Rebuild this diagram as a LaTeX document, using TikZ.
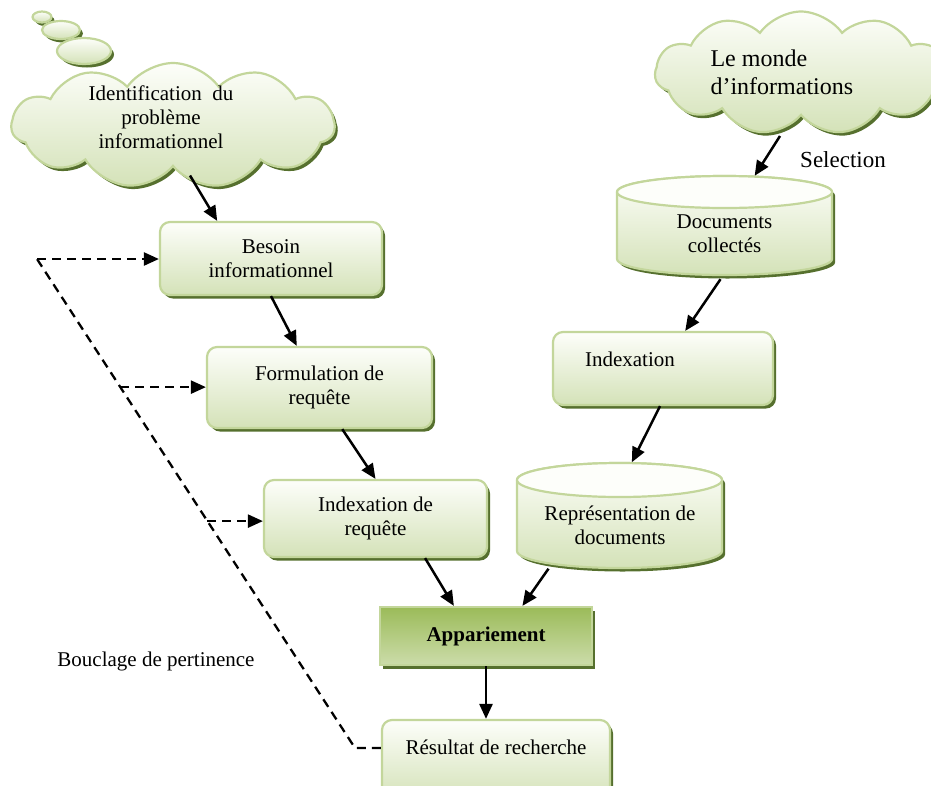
\documentclass[tikz,border=0pt]{standalone}
\usepackage{fontspec}
\setmainfont{Liberation Serif}
\usetikzlibrary{shapes.symbols,shadows,calc,arrows.meta}

\definecolor{edge}{HTML}{C3D69B}
\definecolor{paleg}{HTML}{D4E2B8}
\definecolor{topw}{HTML}{FDFEFA}
\definecolor{olive}{HTML}{56702E}
\definecolor{midg}{HTML}{9BBB59}
\definecolor{liteg}{HTML}{C3D69B}

\begin{document}
\begin{tikzpicture}[x=1pt,y=-1pt,
  every node/.style={font=\fontsize{21}{24}\selectfont},
  shad/.style={drop shadow={shadow xshift=3pt,shadow yshift=-3.5pt,fill=olive,opacity=1}},
  stepbox/.style={rectangle,rounded corners=10pt,draw=edge,line width=2.2pt,
    top color=topw,bottom color=paleg,shad,align=center,inner sep=0pt},
  matchbox/.style={rectangle,draw=liteg,line width=2.2pt,
    top color=midg,bottom color=liteg!85!white,shad,inner sep=0pt,
    font=\fontsize{21}{24}\selectfont\bfseries},
  cloudbox/.style={cloud,cloud puffs=11,cloud puff arc=110,draw=edge,line width=2.2pt,
    top color=topw,bottom color=paleg,shad,inner sep=0pt},
  bubble/.style={draw=edge,line width=2.2pt,top color=topw,bottom color=paleg,shad},
  cylbody/.style={draw=edge,line width=2.2pt,top color=topw,bottom color=paleg,shad},
  cyltop/.style={draw=edge,line width=2.2pt,fill=topw},
  bound/.style={rectangle,draw=none,inner sep=0pt},
  flow/.style={-{Triangle[length=15pt,width=13pt]},line width=2.5pt},
  loopline/.style={dash pattern=on 9pt off 6pt,line width=2.3pt},
  looptip/.style={-{Triangle[length=15pt,width=13pt]}}
]
\useasboundingbox (0,0) rectangle (931,785);

% thought bubbles leading to the first cloud
\path[bubble] (42,17) ellipse [x radius=9.5pt,y radius=5.5pt];
\path[bubble] (61,30) ellipse [x radius=19pt,y radius=9pt];
\path[bubble] (84,51) ellipse [x radius=27pt,y radius=13pt];

% clouds
\node[cloudbox,aspect=2.6,minimum width=323pt,minimum height=125pt] (cloud1) at (173,125.5) {};
\node[align=center] (cloud1txt) at (161,117) {Identification~ du\\probl\`eme\\informationnel};

\node[cloudbox,aspect=2.4,minimum width=292pt,minimum height=123pt] (cloud2) at (801,73) {};
\node[anchor=west,align=left,font=\fontsize{24}{28}\selectfont] (cloud2txt) at (707,72) {Le monde\\d’informations};

\node[font=\fontsize{23}{26}\selectfont] (sel) at (843,160) {Selection};

% left column: query side
\node[stepbox,minimum width=222pt,minimum height=73pt] (besoin) at (271,258.5) {Besoin\\informationnel};
\node[stepbox,minimum width=225pt,minimum height=81pt] (form) at (319.5,387.5) {Formulation de\\requête};
\node[stepbox,minimum width=223pt,minimum height=77pt] (idxreq) at (375.5,518.5) {Indexation de\\requête};
\node[matchbox,minimum width=212pt,minimum height=58pt] (app) at (486,636) {Appariement};
\node[stepbox,minimum width=228pt,minimum height=80pt] (res) at (496,760) {};
\node (restxt) at (496,747) {Résultat de recherche};

% right column: document side
\node[bound,minimum width=215pt,minimum height=99pt] (doc) at (724.5,225.5) {};
\path[cylbody] (617,192) -- (617,259)
  arc[start angle=180,end angle=360,x radius=107.5pt,y radius=16pt] -- (832,192)
  arc[start angle=0,end angle=180,x radius=107.5pt,y radius=16pt] -- cycle;
\path[cyltop] (724.5,192) ellipse [x radius=107.5pt,y radius=16pt];
\node[align=center] (doctxt) at (724.5,234) {Documents\\collectés};

\node[stepbox,minimum width=220pt,minimum height=73pt] (idx) at (663,368.5) {};
\node (idxtxt) at (630,359) {Indexation};

\node[bound,minimum width=205pt,minimum height=106pt] (repr) at (619.5,515.5) {};
\path[cylbody] (517,480) -- (517,551)
  arc[start angle=180,end angle=360,x radius=102.5pt,y radius=17pt] -- (722,480)
  arc[start angle=0,end angle=180,x radius=102.5pt,y radius=17pt] -- cycle;
\path[cyltop] (619.5,480) ellipse [x radius=102.5pt,y radius=17pt];
\node[align=center] (reprtxt) at (620,525) {Représentation de\\documents};

\node (bouclage) at (156,661) {Bouclage de pertinence};

% solid flow arrows
\draw[flow] ($(cloud1.center)+(17,50)$) -- ($(besoin.north west)!0.26!(besoin.north east)$);
\draw[flow] (besoin.south) -- ($(form.north west)!0.4!(form.north east)$);
\draw[flow] ($(form.south west)!0.6!(form.south east)$) -- (idxreq.north);
\draw[flow] ($(idxreq.south west)!0.72!(idxreq.south east)$) -- ($(app.north west)!0.35!(app.north east)$);
\draw[flow] ($(repr.south)+(-71,0)$) -- ($(app.north west)!0.67!(app.north east)$);
\draw[flow] (app.south) -- (app.south |- res.north);
\draw[flow] ($(cloud2.center)+(-21,63)$) -- ($(doc.north west)!0.64!(doc.north east)$);
\draw[flow] ($(doc.south)+(-4,4)$) -- ($(idx.north west)!0.6!(idx.north east)$);
\draw[flow] ($(idx.south)+(-3,0)$) -- ($(repr.north west)!0.56!(repr.north east)$);

% relevance feedback loop (dashed)
\coordinate (p0) at (37,259);
\coordinate (p3) at (355,748);
\coordinate (b1) at ($(p0)!0.262!(p3)$);
\coordinate (b2) at ($(p0)!0.536!(p3)$);
\draw[loopline] (p3 -| res.west) -- (p3) -- (p0);
\draw[loopline,looptip] (p0) -- (p0 -| besoin.west);
\draw[loopline,looptip] (b1) -- (b1 -| form.west);
\draw[loopline,looptip] (b2) -- (b2 -| idxreq.west);
\end{tikzpicture}
\end{document}
